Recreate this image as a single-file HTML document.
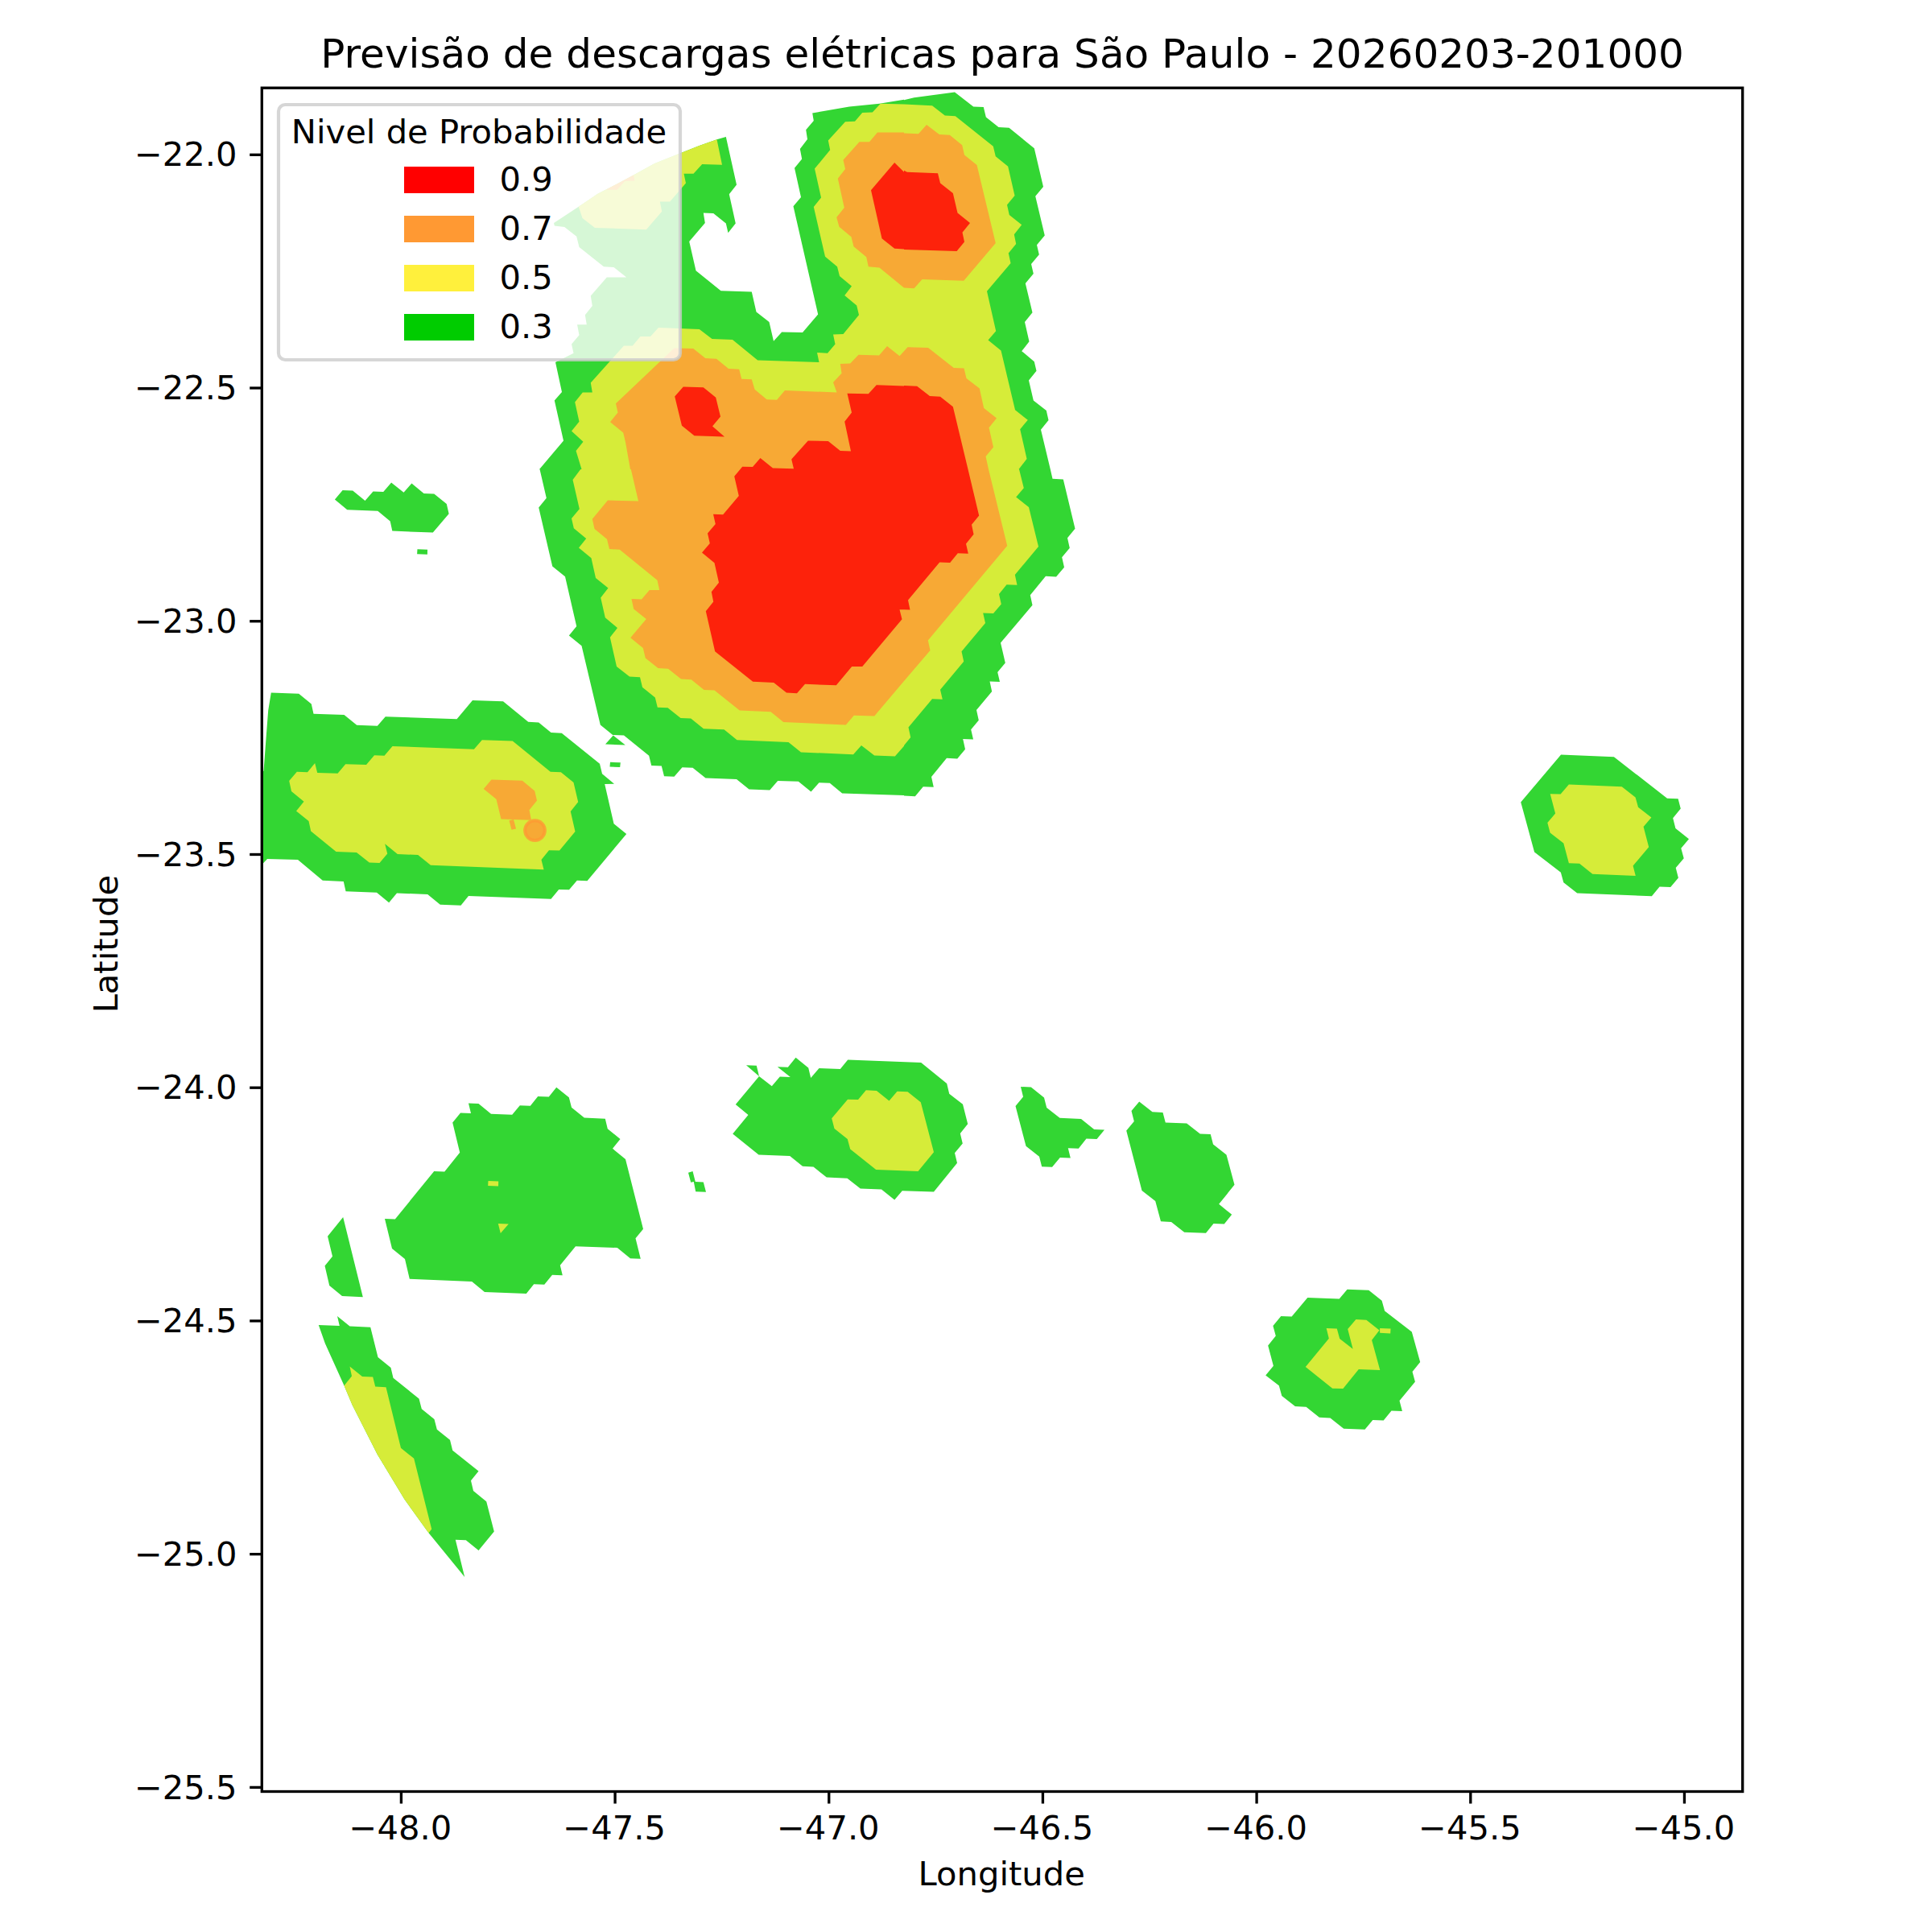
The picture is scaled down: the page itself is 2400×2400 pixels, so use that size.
<!DOCTYPE html>
<html><head><meta charset="utf-8"><title>Previsão de descargas elétricas</title>
<style>html,body{margin:0;padding:0;background:#fff}svg{display:block}text{font-family:"DejaVu Sans","Liberation Sans",sans-serif;fill:#000}</style>
</head><body>
<svg width="2400" height="2400" viewBox="0 0 2400 2400">
<rect width="2400" height="2400" fill="#fff"/>
<defs><clipPath id="ax"><rect x="325.3" y="109.2" width="1839.4" height="2116.3"/></clipPath>
<clipPath id="c1"><rect x="640" y="100" width="483" height="483"/></clipPath>
<clipPath id="c2"><rect x="1123" y="100" width="483" height="483"/></clipPath>
<clipPath id="c3"><rect x="640" y="583" width="483" height="483"/></clipPath>
<clipPath id="c4"><rect x="1123" y="583" width="483" height="483"/></clipPath></defs>
<g clip-path="url(#ax)">
<g clip-path="url(#c1)"><polygon fill="#33d633" points="670,583 700,547.5 688.8,497.5 698,487 690,450 712.5,438.8 710,427.5 719.5,416.2 717,403.2 728.8,403.2 726.8,391.2 735.8,380 733.8,367.5 753.8,344.5 778.2,344.5 762.5,332 750,331.2 719.5,307 716.2,293.8 701.2,282 688.8,280.5 688,277 718.8,256.8 742.5,240.8 766.5,228.5 787,217.5 812.8,203.2 842.8,191.2 868,181.2 890.5,173.2 901.8,170 915,229.5 905.8,241.2 913.8,277.5 904.5,289.2 901.8,277.5 886.2,265 873.8,264.5 875.8,277 856.2,300 864.5,336.2 895.5,361.2 933.8,362.5 939.5,387.5 955.5,400 961,423.8 971.2,412.5 997,413 1016.2,390.5 985.5,256.2 995,245 987,208.8 996.2,197.5 993.8,185 1003,173 1001.2,161.2 1010.8,150 1009.2,140.5 1055,132.5 1092.5,128.8 1123,123.8 1123,583"/></g>
<g clip-path="url(#c2)"><polygon fill="#33d633" points="1123,124.2 1135.5,121.2 1186,114.5 1209.2,132.5 1221.8,133 1224.8,145.5 1240.5,158 1253.5,158.8 1284.8,184.2 1296,232 1286.2,243.8 1297.8,292.5 1288,304.2 1290.8,316.2 1281,328 1283.8,340 1273.8,352 1282.5,388.2 1273,400 1278.5,424.2 1269.2,436.2 1284.8,449.2 1287.5,460.8 1278,472.5 1283.8,497.5 1299.8,510 1302.5,522 1293,533.8 1304.8,583 1123,583"/></g>
<g clip-path="url(#c3)"><polygon fill="#33d633" points="670.5,583 678.8,618.8 669.2,630.5 686.2,703.5 702,716.2 716.2,778 706.8,789.5 722.5,802.2 745.8,900.5 761.2,913 775,913.5 806.2,938.8 809.2,951 821.8,951.5 825,964.2 837.5,964.8 847.5,953.2 860.5,953.8 876.5,966.5 915,968 930.5,980.5 956.2,981.5 966.2,970 991.8,970.8 1007.5,983.5 1017.5,972.2 1030.8,972.8 1046.2,985.5 1123,988 1123,583"/></g>
<g clip-path="url(#c3)"><polygon fill="#33d633" points="761.8,913.5 776.8,925.5 752,924.5"/></g>
<g clip-path="url(#c3)"><polygon fill="#33d633" points="758,946.8 770.8,947.2 770.2,953 757.5,952.5"/></g>
<g clip-path="url(#c4)"><polygon fill="#33d633" points="1304.8,583 1307.5,594.8 1320.8,595.5 1335.5,656.8 1326,668.2 1328.8,680.8 1319.2,692.2 1322,704.8 1312,716.5 1299,715.8 1279.8,739.2 1282.5,751.8 1243,798.5 1248.8,823.5 1239.2,835 1242,847 1229.5,846.5 1232.2,859 1213,882 1215.8,894.8 1206.2,906.2 1209,918.5 1196.2,918 1199,930.8 1189.2,942.5 1176,941.8 1157,965 1159.8,977.8 1146.8,977.2 1136.8,989.2 1123,988.5 1123,583"/></g>
<polygon fill="#33d633" points="336.8,860.5 371.2,861.8 386.8,874.5 389.5,886.8 427.5,888 443.2,900.8 468.8,901.8 478.8,890.2 567.5,893.2 587,870 625,871.2 656.2,896.8 669.2,897.5 684.5,910 697.8,910.8 745,948.8 748,961.2 763,973.8 751.2,974 762.5,1023.2 778.2,1036 729.5,1094.2 716.8,1093.8 707,1105.2 694.2,1105 684.5,1116.8 582,1113 572.5,1124.8 546.8,1123.8 531.2,1111 493,1109.5 483.2,1121.2 468,1108.8 429.5,1107.2 426.8,1095 400.8,1093.8 370,1068 332,1067 320,1080 320,970 327.5,957.5 330.5,917.5 333.2,882.5"/>
<polygon fill="#33d633" points="415.9,620.5 425.6,609 438.2,609.4 453.5,621.9 463.5,610.5 476.2,611 486.1,599.5 501.5,611.8 511.4,600.4 526.5,612.9 539.3,613.4 554.8,626.1 557.6,638.3 537.8,661.5 487.3,659.6 484.7,647.5 469.3,634.8 431.3,633.2"/>
<polygon fill="#33d633" points="518.5,682.2 531,682.7 530.9,688.7 518.1,688.2"/>
<polygon fill="#33d633" points="1889.2,996.4 1939.1,937.6 2004.9,940.2 2071,991.8 2084.6,992.3 2087.8,1004.6 2078.2,1016.2 2081.4,1029 2098,1042.3 2088.3,1053.8 2091.7,1066.3 2081.7,1078 2084.9,1090.4 2075.2,1102 2061.6,1101.5 2051.9,1113.3 1959.2,1109.4 1942.3,1096.3 1938.9,1083.7 1906.1,1058.4"/>
<polygon fill="#33d633" points="582,1370.5 594.5,1371 610,1383.8 636.2,1384.8 645.8,1373.2 658.8,1373.8 668.2,1362 681.8,1362.5 691.2,1350.8 706.8,1363.2 710,1375.8 725.8,1388.5 751.8,1389.8 754.8,1402.2 770.5,1415 761,1426.8 777,1440 799,1526.8 789.5,1538.2 795.8,1563.8 783,1563.2 766.8,1550 715,1548.2 695.8,1571.8 698.8,1584.2 686,1583.8 676.2,1595.8 663.2,1595.2 653.8,1607 602,1605 586.2,1592 508.8,1588.8 503,1564 487,1551 478,1514 490.8,1514.5 539.2,1455 552.2,1455.5 571.2,1431.8 562.2,1394.5 572,1382.5 585,1383"/>
<polygon fill="#33d633" points="426.2,1512 450.8,1611.2 425,1610 409.2,1597 403.5,1572.5 413,1560.8 407,1535.8"/>
<polygon fill="#33d633" points="395.8,1646 421.8,1647 419,1635 434.5,1647.5 460.2,1648.8 469.5,1686 485.5,1699 488.5,1711.8 520.5,1737.5 523.8,1750.2 539.5,1763 542.8,1775.8 559,1788.8 562.2,1801.8 594.5,1827.5 585,1839.2 588,1852 604.2,1865.2 613.8,1902.5 594.5,1926 578.8,1913.2 565.8,1912.8 577.2,1959 532.5,1904.2 502.5,1862.5 468.8,1806.8 437.5,1745 427.5,1721.2 403.8,1668.8"/>
<polygon fill="#33d633" points="943,1337 958.8,1349.2 968.8,1337.5 981.8,1338 965.8,1325.2 978.8,1325.8 988.5,1313.8 1004.2,1326.5 1007.2,1339 1017.5,1327 1043.8,1328 1053.2,1316.5 1144.2,1320 1176.2,1346 1179.2,1358.8 1196,1371.8 1202.2,1396.2 1192.8,1408 1195.8,1420.5 1186,1432.2 1189,1444.8 1160,1480.5 1120.8,1479.2 1111.2,1490.5 1095,1477.5 1068.8,1476.5 1052.5,1463.8 1026.8,1462.5 1010.5,1449.5 997,1448.8 981.2,1436 942.5,1434.5 910.2,1408.5 929.5,1385 913.8,1372"/>
<polygon fill="#33d633" points="927,1323.2 939.8,1323.8 943,1337"/>
<polygon fill="#33d633" points="855,1456.8 860.5,1455 863.8,1468 873.8,1468.5 877,1480.8 864.2,1480.2 861.8,1468 858.2,1468.8"/>
<polygon fill="#33d633" points="1268,1350 1280.8,1350.5 1297,1363.5 1300.2,1376 1316.5,1388.8 1343,1390 1359.2,1403 1372,1403.5 1362.5,1415 1349.5,1414.5 1339.8,1426.8 1326.8,1426.2 1329.8,1438.5 1316.8,1438 1307,1449.8 1294.2,1449.2 1291,1436.8 1274.5,1423.8 1261.5,1374 1271,1362.5"/>
<polygon fill="#33d633" points="1415.2,1368.5 1431.5,1381.2 1444.5,1382 1447.8,1394.5 1474.2,1395.5 1490.8,1408.5 1503.8,1409 1507,1421.5 1523.5,1434.5 1533.5,1471.8 1514.2,1495.8 1530.2,1508.8 1520.8,1520.5 1507.5,1520 1498,1531.8 1471.2,1530.8 1455,1518 1442,1517.2 1435.2,1492 1418.5,1479 1399.2,1404.5 1408.8,1393 1405.5,1380"/>
<polygon fill="#33d633" points="1572.2,1708.4 1581.9,1696.7 1575.2,1671.4 1584.8,1659.5 1581.4,1647 1591.3,1635.1 1604.6,1635.6 1624.3,1611.9 1663.7,1613.6 1673.6,1601.8 1700.3,1602.8 1716.6,1615.7 1720.1,1628.5 1753.8,1654.5 1764.2,1692.1 1754.5,1704 1757.9,1716.5 1738.5,1740.1 1741.9,1752.9 1728.5,1752.5 1718.7,1764.4 1705.3,1763.9 1695.5,1775.8 1669.2,1774.7 1652.5,1761.4 1638.9,1760.7 1622.6,1747.8 1608.9,1747 1592.3,1734.1 1588.8,1721.3"/>
<g clip-path="url(#c1)"><polygon fill="#d6ec39" points="718.8,256.8 723.5,271 739,283 802.8,285.2 822.2,262.8 819.8,250.5 832.2,250.5 852,227.5 849.5,215.8 861.5,215.8 872.2,204 897,204.8 890.5,173.2 868,181.2 842.8,191.2 812.8,203.2 787,217.5 766.5,228.5 742.5,240.8"/></g>
<g clip-path="url(#c1)"><polygon fill="#d6ec39" points="722.5,583 715.5,560 724.5,548.8 710,535.5 719.5,523.8 714.2,499.5 723.8,487.5 735.8,487.5 733.8,475.5 775,429.5 785.8,429.5 795.5,418 808,418 818,407 868.8,409 884.5,421 910,422 941.2,447.5 1017.5,450 1015,438 1028,438.8 1037.5,427.5 1035,415.5 1047.5,415 1067,391.2 1064.2,379.5 1049.2,367 1058,355.5 1043,343 1040,331.2 1025,318.8 1010.8,257 1020,245.5 1012,209.5 1031.2,186.2 1028.8,174.5 1050,151.2 1062,150.8 1071.2,140 1083.8,139.5 1093.8,128.8 1123,129.5 1123,583"/></g>
<g clip-path="url(#c2)"><polygon fill="#d6ec39" points="1123,129.5 1158,131.2 1173.8,143.5 1186.8,144.2 1233.8,181.8 1236.8,194.2 1252.2,206.8 1260.5,243 1251,254.5 1253.8,267 1269.2,279.2 1259.8,291.2 1262.2,303 1252.8,314.5 1255.5,327 1226,361.8 1237.2,411.2 1227.5,422.5 1243.5,435.5 1261,509.2 1276.8,521.8 1267.2,533.2 1275.5,570 1265.5,583 1123,583"/></g>
<g clip-path="url(#c3)"><polygon fill="#d6ec39" points="721.2,583 711.5,596 719.8,632.2 710,644 712.8,656.2 728.2,669 719,680.5 734.5,693.2 740,718 755.5,730.5 746.2,742.5 751.8,767.2 767,780 757.8,791.8 766,828 782,840.5 795,841.2 798,853.8 813.8,866.5 816.8,878.8 829.5,879.2 845.5,892 858.2,892.5 874,905.2 899.5,906.2 915.5,919.2 979.5,922 995,934.5 1060,937.2 1070,926 1086.2,938.5 1111.8,939.5 1123,926.8 1123,583"/></g>
<g clip-path="url(#c4)"><polygon fill="#d6ec39" points="1266,583 1271.8,606.2 1262.2,617.5 1278,630 1290,679 1260.8,714 1263.5,726.8 1250.5,726.2 1241,738 1243.8,750.5 1234,762 1221.2,761.5 1224,774 1194.5,809.2 1197.2,821.8 1168,856.8 1170.8,868.8 1158,868.2 1128.5,903.5 1131.2,916 1123,926 1123,583"/></g>
<polygon fill="#d6ec39" points="359.2,970 368.8,958.8 382,959.2 391.2,948 394.2,960 419.5,960.8 429.2,949.2 455,950 465,938.2 477.5,938.8 487.5,927 588.8,930.8 598.8,919.2 636.8,920.5 683.8,958.8 696.8,959.2 712.5,972 718.2,996.2 708.8,1008 714.5,1033 695,1056.5 682,1056.2 672.5,1068 675.5,1080.2 535,1074.8 519.2,1062 493.8,1061 478.2,1048.2 481.2,1060.5 471.5,1072 458.8,1071.5 443,1059 417.5,1058 386.2,1032.5 383.5,1020 368,1007.5 377.5,995.8 362,983"/>
<polygon fill="#d6ec39" points="1925.7,986.2 1938.6,986.4 1948.9,974.5 2014.7,977.3 2031.6,990.4 2035,1002.7 2051.4,1015.5 2041.6,1027.1 2048.2,1052.2 2028.6,1075.4 2031.8,1087.9 1978.3,1085.7 1962.1,1072.8 1948.9,1072.2 1942.3,1047.4 1925.6,1034.6 1922.3,1022.1 1932.1,1010.5"/>
<polygon fill="#d6ec39" points="606.5,1467 619.2,1467.5 619,1473.5 606.2,1473"/>
<polygon fill="#d6ec39" points="618.8,1520 631.8,1520.5 621.8,1532"/>
<polygon fill="#d6ec39" points="427.5,1721.2 437,1709.5 434.5,1697.5 450,1710 463.2,1710.5 466.2,1722.5 479.5,1723.2 498,1798.8 514.2,1811.8 536.2,1899.5 532.5,1904.2 502.5,1862.5 468.8,1806.8 437.5,1745"/>
<polygon fill="#d6ec39" points="1033.2,1389.2 1053,1365.8 1066,1366 1075.8,1354.2 1089,1355 1104.5,1367.5 1114.5,1355.8 1127.5,1356.2 1143.8,1369.2 1160,1431.2 1140.5,1455 1088.2,1453 1056.2,1427.5 1052.8,1415 1036.5,1402"/>
<polygon fill="#d6ec39" points="1621.8,1698 1650.8,1662.7 1647.7,1650.1 1660.8,1650.5 1664.2,1662.9 1680.6,1675.8 1674.2,1651.1 1684.4,1638.9 1697.4,1639.7 1713.5,1652.4 1704.1,1664.8 1714.3,1702.1 1687.8,1701.1 1668.4,1724.9 1655.2,1724.7"/>
<polygon fill="#d6ec39" points="1714.1,1650.1 1727.5,1650.5 1727.2,1656.4 1714.1,1655.8"/>
<g clip-path="url(#c1)"><polygon fill="#f7a935" points="752.8,235.8 766.5,235.8 776.5,225 788.5,224.5 787,217.5 766.5,228.5"/></g>
<g clip-path="url(#c1)"><polygon fill="#f7a935" points="1123,164.5 1090,164.5 1080,176.2 1067.5,176.2 1047.5,198.8 1050,210 1040.8,221.8 1048.8,258 1039.2,270 1042.5,281.8 1057.5,294.2 1060.5,306.2 1076.2,319.2 1078.8,331.2 1092.5,332.5 1123,357.5"/></g>
<g clip-path="url(#c1)"><polygon fill="#f7a935" points="783,583 777,549.2 774.2,537.5 758,524.2 767.5,512.5 765,501.2 837.5,432.5 861.2,433 876.2,445 890,445.8 905,458 918.2,458.8 921.2,470.8 933.8,471.2 937.5,483.8 952.5,496.2 965,496.8 975,485 1039.5,487.5 1035,475 1045.5,463.8 1043.8,452 1056.2,451.5 1066.5,440.8 1092,441.5 1102,430 1117.5,442.2 1123,436.2 1123,583"/></g>
<g clip-path="url(#c2)"><polygon fill="#f7a935" points="1123,165.5 1141,166.2 1151,155 1166.8,167 1179.8,167.8 1195.2,180.2 1198,192.5 1213.5,205 1236.8,302 1197.2,348.8 1145.5,347 1135.5,358.2 1123,357.5"/></g>
<g clip-path="url(#c2)"><polygon fill="#f7a935" points="1123,436.2 1127.5,431.2 1153,432 1184.8,457 1197.5,457.5 1200.5,470 1216.8,482.5 1222.2,507 1238,519.5 1228.5,531.2 1234,555.5 1224.5,567 1228,583 1123,583"/></g>
<g clip-path="url(#c3)"><polygon fill="#f7a935" points="783.8,583 793,622.5 755,621.5 735.8,644.8 738.5,657 754,669.8 757,682 769.8,682.8 816.5,720.8 819.2,733 806.8,733 797,744.5 784.5,744 787.2,756.5 802.8,769 783.2,792.2 798.8,805 801.8,817.5 817.5,830 830,830.8 846,843.5 858.8,844.2 874.5,857 887.5,857.5 918.8,882.5 957.5,884.2 973.2,897 1050.8,900.5 1060.8,888.8 1086.2,889.5 1123,846 1123,583"/></g>
<g clip-path="url(#c4)"><polygon fill="#f7a935" points="1228,583 1251.2,678 1152.8,795.5 1155.5,808 1123,846 1123,583"/></g>
<polygon fill="#f7a935" points="600.8,980 610.5,968.5 648.8,969.8 664.2,982.5 667,994.5 657.5,1006.2 660,1018.8 622.5,1017.5 616.5,992.8"/>
<polygon fill="#f7a935" points="632.5,1019.2 638,1018 641,1029.5 635.5,1030.8"/>
<circle cx="664.5" cy="1031.6" r="14.4" fill="#f7a935"/><circle cx="664.5" cy="1031.6" r="11.4" fill="none" stroke="#fd9c33" stroke-width="2.1"/>
<g clip-path="url(#c1)"><polygon fill="#fd220b" points="1123,213.8 1111.2,202 1082,236.2 1095.5,296.2 1111.2,308.8 1123,309.5"/></g>
<g clip-path="url(#c1)"><polygon fill="#fd220b" points="848.8,480.5 873.8,481.2 889.2,493.8 895,517.5 885,529.5 900,542.5 862.5,541.2 847,528.8 838.2,492.5"/></g>
<g clip-path="url(#c1)"><polygon fill="#fd220b" points="919.5,583 922.2,579.8 935,580 944.5,569 960,581.5 986,582.2 983.2,570.5 1003.8,547.5 1028.8,548 1043.8,560 1057,560.5 1049.2,523.8 1058,512.5 1052.5,488.8 1078.8,489.2 1088.8,478.2 1123,479.5 1123,583"/></g>
<g clip-path="url(#c2)"><polygon fill="#fd220b" points="1123,211.8 1126.8,213.8 1165,215.2 1168,227.5 1183.8,240 1189.5,264.5 1205,277 1195.5,288.8 1198,300.5 1188.5,312 1123,310"/></g>
<g clip-path="url(#c2)"><polygon fill="#fd220b" points="1123,479 1139.2,479.8 1155,492 1168,492.8 1183.8,505.2 1202.5,583 1123,583"/></g>
<g clip-path="url(#c3)"><polygon fill="#fd220b" points="919.5,583 912.2,591.8 917.8,616 898.2,639.2 886,638.8 888.8,651 879,662.5 881.8,675 872,686.5 887.5,699.2 893,723.8 883.8,735.2 886.2,747.5 876.8,759.2 888.2,809.2 935.2,846.8 961.2,848 977,860.5 990,861.2 1000,849.8 1038.8,851.2 1058.2,828 1071.2,828 1120.5,769.2 1117.5,757.2 1123,757.2 1123,583"/></g>
<g clip-path="url(#c4)"><polygon fill="#fd220b" points="1202.5,583 1216.2,640.5 1207,651.8 1209.5,663.8 1200,675.5 1202.8,687.8 1189.8,687.2 1180.2,699 1167.2,698.5 1128,745.5 1130.5,757.5 1123,757.2 1123,583"/></g>
</g>

<rect x="346" y="130" width="499" height="317" rx="8.3" ry="8.3" fill="#fff" fill-opacity="0.8" stroke="#ccc" stroke-opacity="0.8" stroke-width="4.17"/>
<text x="361.8" y="177.7" font-size="41.67">Nivel de Probabilidade</text>
<rect x="502" y="207" width="87" height="33" fill="#ff0000"/>
<rect x="502" y="268" width="87" height="33" fill="#ff9933"/>
<rect x="502" y="329" width="87" height="33" fill="#fff03c"/>
<rect x="502" y="390" width="87" height="33" fill="#00cc00"/>
<text x="620.6" y="236.8" font-size="41.67">0.9</text>
<text x="620.6" y="297.8" font-size="41.67">0.7</text>
<text x="620.6" y="358.8" font-size="41.67">0.5</text>
<text x="620.6" y="419.8" font-size="41.67">0.3</text>

<rect x="325.3" y="109.2" width="1839.4" height="2116.3" fill="none" stroke="#000" stroke-width="3.33"/>
<line x1="498.4" y1="2225.5" x2="498.4" y2="2240.5" stroke="#000" stroke-width="3.33"/>
<text x="497.45" y="2285.07" text-anchor="middle" font-size="41.67">−48.0</text>
<line x1="764.075" y1="2225.5" x2="764.075" y2="2240.5" stroke="#000" stroke-width="3.33"/>
<text x="763.125" y="2285.07" text-anchor="middle" font-size="41.67">−47.5</text>
<line x1="1029.75" y1="2225.5" x2="1029.75" y2="2240.5" stroke="#000" stroke-width="3.33"/>
<text x="1028.8" y="2285.07" text-anchor="middle" font-size="41.67">−47.0</text>
<line x1="1295.43" y1="2225.5" x2="1295.43" y2="2240.5" stroke="#000" stroke-width="3.33"/>
<text x="1294.48" y="2285.07" text-anchor="middle" font-size="41.67">−46.5</text>
<line x1="1561.1" y1="2225.5" x2="1561.1" y2="2240.5" stroke="#000" stroke-width="3.33"/>
<text x="1560.15" y="2285.07" text-anchor="middle" font-size="41.67">−46.0</text>
<line x1="1826.78" y1="2225.5" x2="1826.78" y2="2240.5" stroke="#000" stroke-width="3.33"/>
<text x="1825.83" y="2285.07" text-anchor="middle" font-size="41.67">−45.5</text>
<line x1="2092.45" y1="2225.5" x2="2092.45" y2="2240.5" stroke="#000" stroke-width="3.33"/>
<text x="2091.5" y="2285.07" text-anchor="middle" font-size="41.67">−45.0</text>
<line x1="310.2" y1="192.3" x2="325.3" y2="192.3" stroke="#000" stroke-width="3.33"/>
<text x="294.6" y="206.435" text-anchor="end" font-size="41.67">−22.0</text>
<line x1="310.2" y1="482.025" x2="325.3" y2="482.025" stroke="#000" stroke-width="3.33"/>
<text x="294.6" y="496.16" text-anchor="end" font-size="41.67">−22.5</text>
<line x1="310.2" y1="771.75" x2="325.3" y2="771.75" stroke="#000" stroke-width="3.33"/>
<text x="294.6" y="785.885" text-anchor="end" font-size="41.67">−23.0</text>
<line x1="310.2" y1="1061.48" x2="325.3" y2="1061.48" stroke="#000" stroke-width="3.33"/>
<text x="294.6" y="1075.61" text-anchor="end" font-size="41.67">−23.5</text>
<line x1="310.2" y1="1351.2" x2="325.3" y2="1351.2" stroke="#000" stroke-width="3.33"/>
<text x="294.6" y="1365.33" text-anchor="end" font-size="41.67">−24.0</text>
<line x1="310.2" y1="1640.92" x2="325.3" y2="1640.92" stroke="#000" stroke-width="3.33"/>
<text x="294.6" y="1655.06" text-anchor="end" font-size="41.67">−24.5</text>
<line x1="310.2" y1="1930.65" x2="325.3" y2="1930.65" stroke="#000" stroke-width="3.33"/>
<text x="294.6" y="1944.78" text-anchor="end" font-size="41.67">−25.0</text>
<line x1="310.2" y1="2220.38" x2="325.3" y2="2220.38" stroke="#000" stroke-width="3.33"/>
<text x="294.6" y="2234.51" text-anchor="end" font-size="41.67">−25.5</text>
<text x="1245.1" y="84" text-anchor="middle" font-size="50" textLength="1693.6" lengthAdjust="spacing">Previsão de descargas elétricas para São Paulo - 20260203-201000</text>
<text x="1244.2" y="2342" text-anchor="middle" font-size="41.67">Longitude</text>
<text transform="translate(146,1172.65) rotate(-90)" text-anchor="middle" font-size="41.67">Latitude</text>
</svg>
</body></html>
